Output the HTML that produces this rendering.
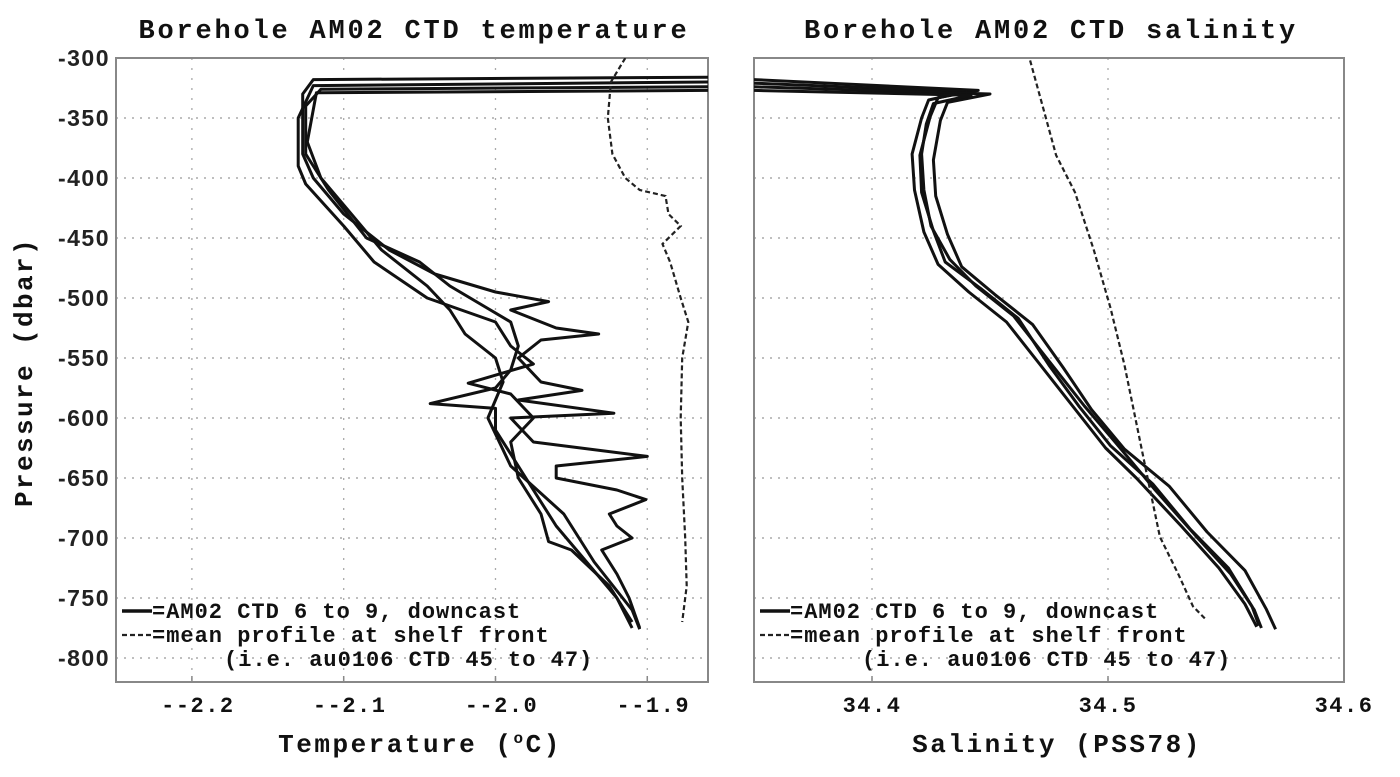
<!DOCTYPE html>
<html><head><meta charset="utf-8">
<style>
html,body{margin:0;padding:0;background:#fff;}
svg{display:block;}
.mono{font-family:"Liberation Mono",monospace;font-weight:bold;fill:#111;}
.sans{font-family:"Liberation Sans",sans-serif;font-weight:bold;fill:#222;}
</style></head>
<body>
<svg id="chart" width="1400" height="777" viewBox="0 0 1400 777" xmlns="http://www.w3.org/2000/svg">
<g id="gL"></g>
<g id="gR"></g>
</svg>
<script>
// ---------- data ----------
const pressureTicks = [-300,-350,-400,-450,-500,-550,-600,-650,-700,-750,-800];
const tempTicks = [-2.2,-2.1,-2.0,-1.9];
const tempTickLabels = ["--2.2","--2.1","--2.0","--1.9"];
const salTicks = [34.4,34.5,34.6];
const salTickLabels = ["34.4","34.5","34.6"];

const tempA_p = [-316,-318,-330,-380,-400,-430,-460,-480,-495,-503,-510,-525,-530,-535,-550,-570,-577,-585,-596,-600,-620,-632,-640,-650,-660,-668,-680,-690,-700,-710,-730,-750,-775];
const tempA_v = [-1.86,-2.12,-2.127,-2.127,-2.12,-2.10,-2.07,-2.04,-2.00,-1.965,-1.99,-1.96,-1.932,-1.97,-1.985,-1.97,-1.943,-1.985,-1.922,-1.99,-1.975,-1.90,-1.96,-1.96,-1.92,-1.901,-1.925,-1.92,-1.91,-1.93,-1.92,-1.912,-1.905];
const tempB_p = [-324,-326,-340,-380,-410,-450,-470,-490,-505,-520,-540,-560,-575,-588,-592,-610,-630,-660,-690,-720,-750,-775];
const tempB_v = [-1.86,-2.115,-2.125,-2.125,-2.11,-2.085,-2.05,-2.03,-2.01,-1.99,-1.985,-1.99,-2.00,-2.043,-2.0,-2.0,-1.99,-1.975,-1.96,-1.94,-1.92,-1.91];
const tempC_p = [-320,-323,-350,-390,-405,-440,-470,-500,-520,-540,-555,-571,-580,-600,-620,-650,-680,-703,-710,-740,-770];
const tempC_v = [-1.86,-2.12,-2.13,-2.13,-2.125,-2.10,-2.08,-2.045,-2.0,-1.99,-1.975,-2.018,-1.99,-1.975,-1.99,-1.985,-1.97,-1.965,-1.95,-1.925,-1.91];
const tempD_p = [-327,-329,-370,-400,-430,-460,-490,-510,-530,-550,-570,-600,-640,-680,-700,-720,-760,-776];
const tempD_v = [-1.86,-2.118,-2.124,-2.115,-2.095,-2.075,-2.045,-2.03,-2.02,-2.0,-1.995,-2.005,-1.99,-1.955,-1.945,-1.935,-1.91,-1.905];
const tempMean_p = [-300,-320,-350,-380,-400,-410,-415,-430,-440,-455,-470,-500,-520,-550,-600,-650,-700,-740,-770];
const tempMean_v = [-1.9145,-1.924,-1.926,-1.923,-1.9145,-1.905,-1.888,-1.886,-1.878,-1.890,-1.885,-1.878,-1.873,-1.877,-1.878,-1.877,-1.875,-1.874,-1.877];

const salA_p = [-318,-327,-333,-349,-381,-412,-444,-470,-492,-517,-556,-591,-623,-655,-693,-725,-757,-773];
const salA_v = [34.35,34.445,34.428,34.4246,34.4203,34.421,34.426,34.431,34.446,34.462,34.475,34.488,34.501,34.519,34.535,34.551,34.561,34.564];
const salB_p = [-321,-328,-335,-350,-380,-410,-445,-472,-495,-520,-555,-590,-625,-650,-690,-725,-755,-774];
const salB_v = [34.35,34.44,34.424,34.421,34.417,34.418,34.422,34.428,34.441,34.457,34.471,34.485,34.499,34.512,34.531,34.547,34.558,34.563];
const salC_p = [-324,-330,-337,-352,-385,-415,-447,-474,-497,-522,-558,-593,-626,-657,-695,-727,-759,-776];
const salC_v = [34.35,34.45,34.432,34.429,34.426,34.427,34.432,34.438,34.452,34.468,34.481,34.493,34.507,34.526,34.542,34.558,34.567,34.571];
const salD_p = [-327,-331,-338,-355,-380,-410,-440,-468,-490,-515,-550,-590,-620,-660,-700,-730,-760,-775];
const salD_v = [34.35,34.442,34.426,34.423,34.421,34.422,34.425,34.433,34.444,34.46,34.474,34.49,34.503,34.52,34.538,34.552,34.562,34.565];
const salMean_p = [-302,-381,-412,-460,-508,-556,-604,-652,-699,-731,-757,-767];
const salMean_v = [34.467,34.478,34.486,34.494,34.501,34.507,34.512,34.517,34.522,34.530,34.536,34.541];

// ---------- layout ----------
const NS="http://www.w3.org/2000/svg";
const topY=58, botY=682;
const pMax=-300, pMin=-820;
function yP(p){return topY+(pMax-p)/(pMax-pMin)*(botY-topY);}
const L={x0:116,x1:708,v0:-2.25,v1:-1.86};
const R={x0:754,x1:1344,v0:34.35,v1:34.6};
function xf(ax){return v=>ax.x0+(v-ax.v0)/(ax.v1-ax.v0)*(ax.x1-ax.x0);}
function mk(tag,attrs,parent){const e=document.createElementNS(NS,tag);for(const k in attrs)e.setAttribute(k,attrs[k]);parent.appendChild(e);return e;}

function panel(g,ax,ticks,labels,title,xtitle,curves,mean,yLabels,clipId){
  const X=xf(ax);
  const defs=mk('defs',{},g);
  const cp=mk('clipPath',{id:clipId},defs);
  mk('rect',{x:ax.x0,y:topY,width:ax.x1-ax.x0,height:botY-topY},cp);
  pressureTicks.forEach(p=>{
    if(p===pMax)return;
    const l=mk('line',{x1:ax.x0,x2:ax.x1,y1:yP(p),y2:yP(p),stroke:'#999','stroke-width':1.3,'stroke-dasharray':'2 6'},g);
    
    
  });
  ticks.forEach(v=>{
    const l=mk('line',{x1:X(v),x2:X(v),y1:topY,y2:botY,stroke:'#aaa','stroke-width':1.3,'stroke-dasharray':'2 8'},g);
    
    
  });
  const fr=mk('rect',{x:ax.x0,y:topY,width:ax.x1-ax.x0,height:botY-topY,fill:'none',stroke:'#888','stroke-width':2},g);
  
  
  const cg=mk('g',{'clip-path':'url(#'+clipId+')'},g);
  curves.forEach((c,i)=>{
    const d=c[0].map((p,j)=>(j?'L':'M')+X(c[1][j]).toFixed(1)+','+yP(p).toFixed(1)).join(' ');
    const path=mk('path',{d:d,fill:'none',stroke:'#111','stroke-width':3,'stroke-linejoin':'round'},cg);
    
    
  });
  const md=mean[0].map((p,j)=>(j?'L':'M')+X(mean[1][j]).toFixed(1)+','+yP(p).toFixed(1)).join(' ');
  const mp=mk('path',{d:md,fill:'none',stroke:'#222','stroke-width':2.2,'stroke-dasharray':'5 3'},cg);
  
  
  ticks.forEach((v,i)=>{
    const t=mk('text',{x:X(v)+(labels[i].startsWith('--')?6:0),y:712,'text-anchor':'middle','font-size':22,'letter-spacing':1.5,class:'mono'},g);
    t.textContent=labels[i];
    
    
    mk('line',{x1:X(v),x2:X(v),y1:botY,y2:botY-6,stroke:'#888','stroke-width':1.5},g);
  });
  if(yLabels){
    pressureTicks.forEach(p=>{
      const t=mk('text',{x:110,y:yP(p)+8,'text-anchor':'end','font-size':23,'letter-spacing':1.5,class:'sans'},g);
      t.textContent=String(p);
      
      
    });
  }
  const tt=mk('text',{x:(ax.x0+ax.x1)/2+2,y:38,'text-anchor':'middle','font-size':27,'letter-spacing':2.8,class:'mono'},g);
  tt.textContent=title;
  
  
  const xt=mk('text',{x:(ax.x0+ax.x1)/2+8,y:752,'text-anchor':'middle','font-size':26,'letter-spacing':2.5,class:'mono'},g);
  xt.innerHTML=xtitle;
  
  
  const lx=ax.x0+6;
  mk('line',{x1:lx,x2:lx+30,y1:611,y2:611,stroke:'#111','stroke-width':3.5},g);
  mk('line',{x1:lx,x2:lx+30,y1:635,y2:635,stroke:'#222','stroke-width':2.2,'stroke-dasharray':'5 3'},g);
  const lt=[['=AM02 CTD 6 to 9, downcast',lx+30,618],['=mean profile at shelf front',lx+30,642],['(i.e. au0106 CTD 45 to 47)',lx+102,666]];
  lt.forEach(a=>{
    const t=mk('text',{x:a[1],y:a[2],'font-size':22,'letter-spacing':1.0,class:'mono'},g);
    t.textContent=a[0];
    
    
  });
}

panel(document.getElementById('gL'),L,tempTicks,tempTickLabels,'Borehole AM02 CTD temperature','Temperature (<tspan baseline-shift="super" font-size="16">o</tspan>C)',
  [[tempA_p,tempA_v],[tempB_p,tempB_v],[tempC_p,tempC_v],[tempD_p,tempD_v]],[tempMean_p,tempMean_v],true,'clipL');
panel(document.getElementById('gR'),R,salTicks,salTickLabels,'Borehole AM02 CTD salinity','Salinity (PSS78)',
  [[salA_p,salA_v],[salB_p,salB_v],[salC_p,salC_v],[salD_p,salD_v]],[salMean_p,salMean_v],false,'clipR');

const svgEl=document.getElementById('chart');
const yt=mk('text',{x:0,y:0,transform:'translate(32,372) rotate(-90)','text-anchor':'middle','font-size':26,'letter-spacing':2.4,class:'mono'},svgEl);
yt.textContent='Pressure (dbar)';


</script>
</body></html>
